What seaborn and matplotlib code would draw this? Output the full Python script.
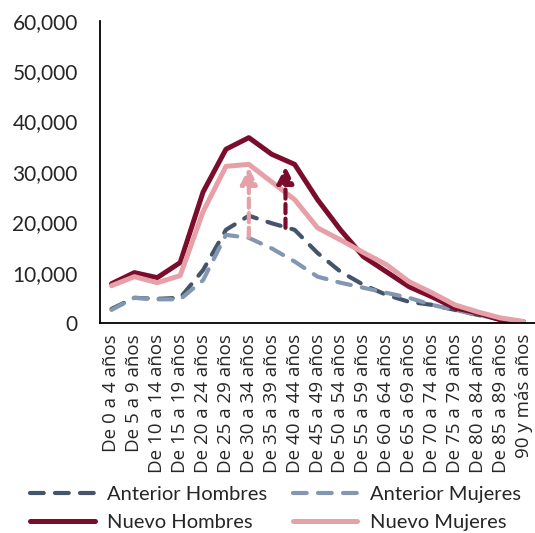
import matplotlib
matplotlib.use("Agg")
import matplotlib.pyplot as plt
import matplotlib.ticker as mticker
import seaborn as sns
import pandas as pd

grupos = ["De 0 a 4 años", "De 5 a 9 años", "De 10 a 14 años", "De 15 a 19 años",
          "De 20 a 24 años", "De 25 a 29 años", "De 30 a 34 años", "De 35 a 39 años",
          "De 40 a 44 años", "De 45 a 49 años", "De 50 a 54 años", "De 55 a 59 años",
          "De 60 a 64 años", "De 65 a 69 años", "De 70 a 74 años", "De 75 a 79 años",
          "De 80 a 84 años", "De 85 a 89 años", "90 y más años"]

anterior_hombres = [2800, 5000, 4800, 5000, 10500, 18500, 21300, 19800, 18500, 13900,
                    10200, 7600, 5600, 4200, 3600, 2600, 1600, 700, 300]
anterior_mujeres = [2600, 5000, 4700, 4700, 8500, 17500, 16900, 14800, 12200, 9200,
                    8000, 7000, 6000, 5000, 3600, 2600, 1600, 700, 300]
nuevo_hombres = [7800, 10000, 9000, 12000, 26000, 34500, 36800, 33500, 31500, 24500,
                 18500, 13200, 10200, 7200, 5200, 3000, 2000, 600, 200]
nuevo_mujeres = [7400, 9200, 8000, 9400, 22100, 31100, 31500, 28000, 24500, 18900,
                 16500, 14000, 11600, 8200, 6000, 3600, 2200, 1000, 300]

series = {
    "Anterior Hombres": anterior_hombres,
    "Anterior Mujeres": anterior_mujeres,
    "Nuevo Hombres": nuevo_hombres,
    "Nuevo Mujeres": nuevo_mujeres,
}
colores = {
    "Anterior Hombres": "#44546A",
    "Anterior Mujeres": "#8497B0",
    "Nuevo Hombres": "#7B0C2C",
    "Nuevo Mujeres": "#E6A1A8",
}

# flechas: (posicion x, desde, hasta, color)
flechas = [(6, 17100, 30900, "#E6A1A8"), (7.6, 18900, 31100, "#7B0C2C")]

df = pd.concat([pd.DataFrame({"x": range(len(grupos)), "valor": v, "serie": k})
                for k, v in series.items()])

sns.set_style("white")
plt.rcParams["font.family"] = ["Lato", "DejaVu Sans"]

fig = plt.figure(figsize=(5.35, 5.33), dpi=100)
ax = fig.add_axes([0.187, 0.394, 0.813, 0.567])

handles = {}
for nombre in series:
    d = df[df["serie"] == nombre]
    nuevo = nombre.startswith("Nuevo")
    sns.lineplot(data=d, x="x", y="valor", ax=ax, color=colores[nombre],
                 linewidth=3.6 if nuevo else 3.0, solid_capstyle="round",
                 dash_capstyle="round", legend=False)
    ln = ax.lines[-1]
    if not nuevo:
        ln.set_dashes((3.3, 2.7))
    handles[nombre] = ln

for x, y0, y1, c in flechas:
    ax.annotate("", xy=(x, y1), xytext=(x, y0),
                arrowprops=dict(arrowstyle="-|>,head_length=1.0,head_width=0.5",
                                color=c, lw=3, linestyle=(0, (2.2, 1.3)),
                                shrinkA=0, shrinkB=0))

ax.set_xlim(-0.5, 18.5)
ax.set_ylim(0, 60000)
ax.set_xticks(range(len(grupos)))
ax.set_xticklabels(grupos, rotation=90, fontsize=13.5, family="Open Sans")
ax.yaxis.set_major_locator(mticker.MultipleLocator(10000))
ax.yaxis.set_major_formatter(mticker.FuncFormatter(lambda v, p: f"{int(v):,}"))
ax.tick_params(axis="y", labelsize=15, length=0, pad=16)
ax.tick_params(axis="x", length=0, pad=8)
ax.set_xlabel("")
ax.set_ylabel("")
sns.despine(ax=ax)
for s in ["left", "bottom"]:
    ax.spines[s].set_color("black")
    ax.spines[s].set_linewidth(1.3)

orden = ["Anterior Hombres", "Nuevo Hombres", "Anterior Mujeres", "Nuevo Mujeres"]
fig.legend([handles[k] for k in orden], orden, loc="lower left",
           bbox_to_anchor=(0.03, -0.022), ncol=2, frameon=False, fontsize=14.5,
           handlelength=3.2, handletextpad=0.6, columnspacing=1.3,
           labelspacing=0.5, borderpad=0.2)

fig.savefig("out.png", dpi=100)
